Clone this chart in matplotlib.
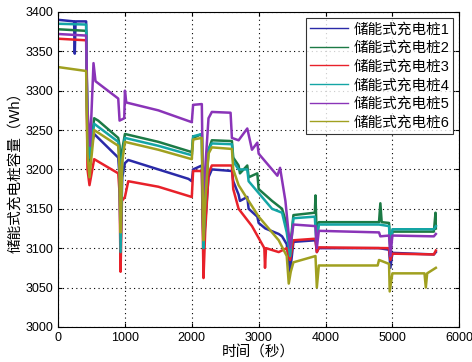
import matplotlib
matplotlib.use("Agg")
import matplotlib.pyplot as plt

plt.rcParams['font.family'] = ['Liberation Sans', 'Noto Sans CJK SC', 'DejaVu Sans']

labels = ["储能式充电桩1", "储能式充电桩2", "储能式充电桩3",
          "储能式充电桩4", "储能式充电桩5", "储能式充电桩6"]
colors = ["#2a2aa8", "#1c7a45", "#e8212a", "#14a5a5", "#8a34b8", "#a0a020"]

# series 1 (blue)
t1 = [0, 240, 250, 262, 420, 440, 470, 540, 900, 920, 935, 960, 1000, 1050, 1500,
      1950, 2000, 2020, 2150, 2175, 2190, 2250, 2300, 2600, 2620, 2700, 2720, 2830,
      2850, 2980, 3000, 3100, 3300, 3350, 3420, 3470, 3520, 3850, 3870, 3900, 4800,
      4950, 4970, 5000, 5620, 5650]
v1 = [3390, 3388, 3347, 3388, 3388, 3230, 3220, 3245, 3215, 3190, 3100, 3190, 3208,
      3212, 3200, 3188, 3185, 3200, 3205, 3100, 3120, 3190, 3200, 3198, 3185, 3168,
      3160, 3165, 3150, 3140, 3132, 3125, 3118, 3115, 3105, 3070, 3108, 3110, 3095,
      3100, 3100, 3098, 3075, 3094, 3092, 3095]

# series 2 (dark green)
t2 = [0, 420, 440, 470, 540, 600, 900, 920, 935, 960, 1000, 1100, 1500, 2000, 2020,
      2150, 2175, 2200, 2250, 2300, 2600, 2620, 2700, 2720, 2830, 2850, 2980, 3000,
      3200, 3350, 3420, 3470, 3520, 3840, 3850, 3870, 3900, 4800, 4820, 4840, 4950,
      4970, 5000, 5620, 5645, 5650]
v2 = [3378, 3376, 3240, 3210, 3265, 3262, 3240, 3230, 3120, 3225, 3245, 3243, 3235,
      3222, 3240, 3245, 3090, 3150, 3225, 3237, 3236, 3215, 3205, 3195, 3205, 3190,
      3195, 3175, 3160, 3150, 3130, 3100, 3142, 3145, 3167, 3110, 3133, 3133, 3157,
      3133, 3132, 3100, 3121, 3121, 3145, 3125]

# series 3 (red)
t3 = [0, 420, 440, 470, 540, 900, 920, 935, 955, 1000, 1050, 1500, 2000, 2020, 2150,
      2175, 2200, 2250, 2300, 2600, 2620, 2700, 2900, 3085, 3095, 3110, 3300, 3420,
      3470, 3520, 3850, 3870, 3900, 4950, 4970, 5000, 5620, 5650]
v3 = [3366, 3364, 3200, 3180, 3213, 3195, 3170, 3070, 3160, 3165, 3185, 3178, 3165,
      3198, 3198, 3062, 3120, 3195, 3205, 3205, 3175, 3150, 3128, 3100, 3075, 3100,
      3095, 3100, 3085, 3110, 3112, 3095, 3101, 3100, 3085, 3093, 3092, 3097]

# series 4 (teal)
t4 = [0, 420, 440, 470, 540, 900, 920, 935, 960, 1000, 1500, 2000, 2020, 2150, 2175,
      2200, 2250, 2300, 2600, 2620, 2700, 2830, 2850, 3000, 3200, 3350, 3420, 3470,
      3520, 3840, 3860, 3900, 4800, 4950, 4970, 5000, 5620, 5650]
v4 = [3385, 3384, 3240, 3215, 3258, 3235, 3210, 3095, 3215, 3240, 3230, 3218, 3242,
      3245, 3100, 3160, 3225, 3233, 3232, 3210, 3200, 3200, 3185, 3170, 3150, 3145,
      3120, 3090, 3138, 3140, 3110, 3130, 3130, 3128, 3095, 3124, 3124, 3128]

# series 5 (purple)
t5 = [0, 420, 440, 480, 530, 560, 900, 920, 990, 1000, 1020, 1500, 2000, 2020, 2150,
      2175, 2200, 2250, 2300, 2580, 2600, 2700, 2830, 2900, 2980, 3000, 3280, 3320,
      3400, 3470, 3520, 3850, 3870, 3900, 4800, 4820, 4950, 4970, 5000, 5620, 5650]
v5 = [3372, 3370, 3275, 3230, 3335, 3312, 3290, 3262, 3265, 3300, 3285, 3275, 3260,
      3282, 3283, 3130, 3200, 3265, 3273, 3272, 3240, 3237, 3252, 3225, 3234, 3220,
      3192, 3202, 3160, 3100, 3130, 3128, 3100, 3122, 3120, 3115, 3116, 3090, 3116,
      3115, 3118]

# series 6 (olive)
t6 = [0, 420, 440, 470, 540, 900, 920, 935, 960, 1000, 1500, 2000, 2020, 2150, 2175,
      2200, 2250, 2300, 2600, 2620, 2700, 3000, 3300, 3420, 3450, 3480, 3520, 3850,
      3870, 3900, 4780, 4800, 4950, 4960, 5000, 5480, 5500, 5520, 5650]
v6 = [3330, 3325, 3220, 3190, 3250, 3230, 3200, 3120, 3210, 3235, 3225, 3213, 3238,
      3240, 3110, 3160, 3220, 3228, 3226, 3200, 3180, 3140, 3110, 3090, 3055, 3070,
      3082, 3090, 3050, 3078, 3078, 3085, 3080, 3045, 3068, 3068, 3050, 3068, 3075]

series = [(t1, v1), (t2, v2), (t3, v3), (t4, v4), (t5, v5), (t6, v6)]

fig = plt.figure(figsize=(4.72, 3.62), dpi=100)
ax = fig.add_axes([0.123, 0.097, 0.85, 0.870])

for (t, v), c, lab in zip(series, colors, labels):
    ax.plot(t, v, color=c, linewidth=1.8, label=lab)

ax.set_xlim(0, 6000)
ax.set_ylim(3000, 3400)
ax.set_xticks(range(0, 6001, 1000))
ax.set_yticks(range(3000, 3401, 50))
ax.grid(True, color="black", linestyle=(0, (1, 3)), linewidth=0.8)
ax.tick_params(direction="in", top=True, right=True, labelsize=9, length=3)
for s in ax.spines.values():
    s.set_linewidth(0.8)

ax.set_xlabel("时间（秒）", fontsize=10.5, labelpad=1)
ax.set_ylabel("储能式充电桩容量（Wh）", fontsize=10.5, labelpad=2)

leg = ax.legend(loc="upper right", fontsize=10.5, frameon=True, fancybox=False,
                handlelength=2.6, borderaxespad=0.4, labelspacing=0.32,
                handletextpad=0.35, borderpad=0.3)
leg.get_frame().set_edgecolor("black")
leg.get_frame().set_linewidth(0.8)
for h in leg.legend_handles:
    h.set_linewidth(1.0)

fig.savefig("out.png", dpi=100)
